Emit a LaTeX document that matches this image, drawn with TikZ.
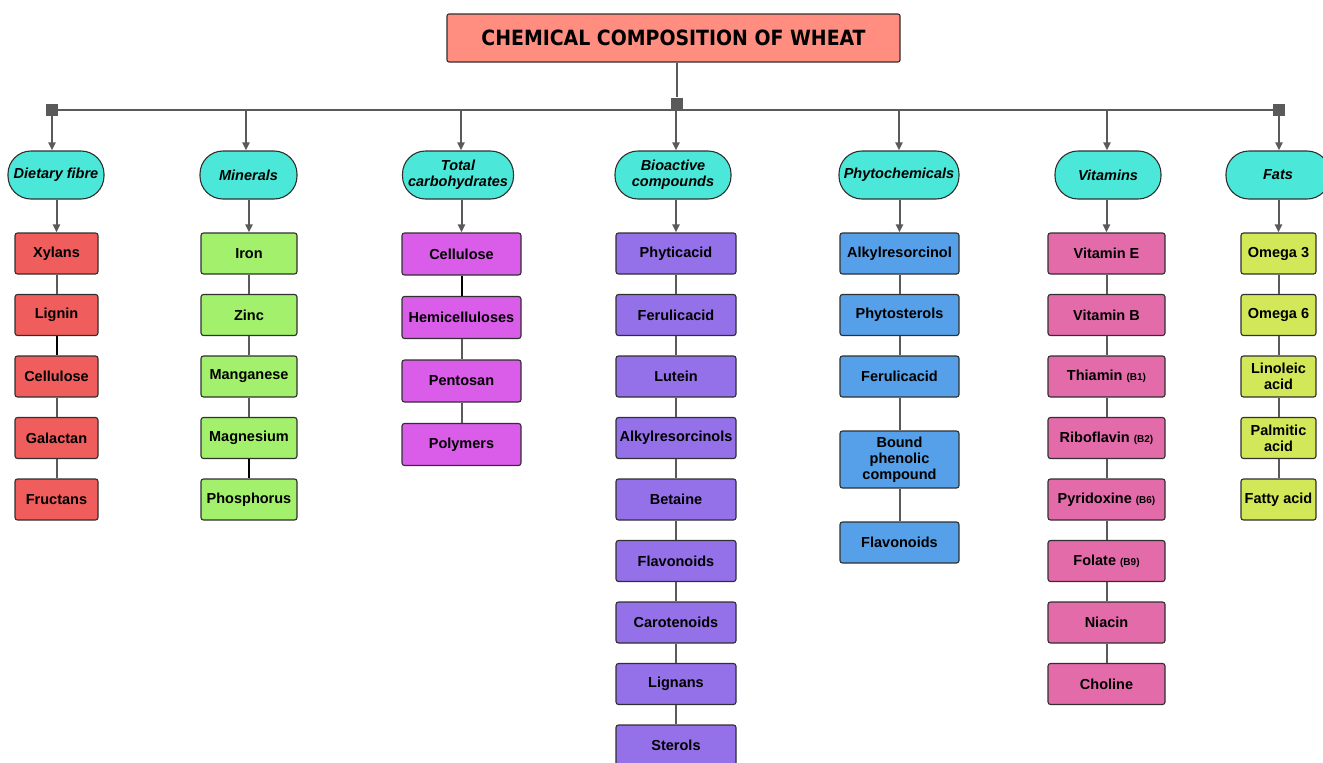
\documentclass[tikz,border=0pt]{standalone}
\usepackage{fontspec}
\setmainfont{Liberation Sans}
\newfontfamily\titlefont{DejaVu Sans Condensed}
\usetikzlibrary{arrows.meta}

\definecolor{titlefill}{HTML}{FF8E80}
\definecolor{catfill}{HTML}{4BE8D9}
\definecolor{redfill}{HTML}{EF5D5D}
\definecolor{greenfill}{HTML}{A2F06B}
\definecolor{magfill}{HTML}{DA5DE9}
\definecolor{purpfill}{HTML}{9470E9}
\definecolor{bluefill}{HTML}{55A0E8}
\definecolor{pinkfill}{HTML}{E46BAA}
\definecolor{limefill}{HTML}{D3E858}
\definecolor{linegray}{HTML}{5A5A5A}
\definecolor{edgegray}{HTML}{303030}

\newcommand{\subtag}[1]{{\fontsize{10}{12}\selectfont #1}}

\begin{document}
\begin{tikzpicture}[x=1pt,y=-1pt,
  conn/.style={draw=linegray,line width=2pt},
  darkconn/.style={draw=black,line width=2pt},
  arr/.style={conn,-{Triangle[length=8pt,width=7pt]}},
  basebox/.style={draw=edgegray,line width=1.1pt,inner sep=2pt,align=center,
    font=\fontsize{14.5}{16}\selectfont\bfseries},
  item/.style={basebox,rectangle,rounded corners=2.5pt,minimum height=41pt},
  cat/.style={basebox,fill=catfill,rounded corners=23pt,minimum height=48pt,
    font=\fontsize{14.5}{16}\selectfont\bfseries\itshape},
  titlebox/.style={draw=edgegray,line width=1.1pt,fill=titlefill,rounded corners=2pt,
    minimum width=453pt,minimum height=48pt,font=\titlefont\fontsize{21}{24}\selectfont\bfseries},
  sq/.style={fill=linegray,minimum size=12pt,inner sep=0pt}
]
\useasboundingbox (0,0) rectangle (1323,763);
\fill[white] (0,0) rectangle (1323,763);

% heading and distribution bus
\node[titlebox] (title) at (673.5,38) {CHEMICAL COMPOSITION OF WHEAT};
\node[sq] (busL) at (52,109.5) {};
\node[sq] (busR) at (1279,109.5) {};
\draw[conn] (busL.center) -- (busR.center);
\node[sq] (busM) at (677,103.5) {};
\draw[conn] (title.south -| busM) -- (busM);

% group headings
\node[cat,minimum width=96pt]  (cat1) at (56,175)    {Dietary fibre};
\node[cat,minimum width=97pt]  (cat2) at (248.5,175) {Minerals};
\node[cat,minimum width=111pt] (cat3) at (458,175)   {Total\\carbohydrates};
\node[cat,minimum width=116pt] (cat4) at (673,175)   {Bioactive\\compounds};
\node[cat,minimum width=120pt] (cat5) at (899,175)   {Phytochemicals};
\node[cat,minimum width=106pt] (cat6) at (1108,175)  {Vitamins};
\node[cat,minimum width=104pt] (cat7) at (1278,175)  {Fats};

\coordinate (b2) at (246,109.5);
\coordinate (b3) at (461,109.5);
\coordinate (b4) at (676,109.5);
\coordinate (b5) at (899,109.5);
\coordinate (b6) at (1107,109.5);
\draw[arr] (busL.center) -- (busL.center |- cat1.north);
\foreach \k in {2,...,6} \draw[arr] (b\k) -- (b\k |- cat\k.north);
\draw[arr] (busR.center) -- (busR.center |- cat7.north);

% Dietary fibre
\foreach \t [count=\i] in {Xylans,Lignin,Cellulose,Galactan,Fructans}
  \node[item,fill=redfill,minimum width=83pt] (c1-\i) at (56.5,192+61.5*\i) {\t};
% Minerals
\foreach \t [count=\i] in {Iron,Zinc,Manganese,Magnesium,Phosphorus}
  \node[item,fill=greenfill,minimum width=96pt] (c2-\i) at (249,192+61.5*\i) {\t};
% Total carbohydrates
\foreach \t [count=\i] in {Cellulose,Hemicelluloses,Pentosan,Polymers}
  \node[item,fill=magfill,minimum width=119pt,minimum height=42pt] (c3-\i) at (461.5,190.5+63.5*\i) {\t};
% Bioactive compounds
\foreach \t [count=\i] in {Phyticacid,Ferulicacid,Lutein,Alkylresorcinols,Betaine,Flavonoids,Carotenoids,Lignans,Sterols}
  \node[item,fill=purpfill,minimum width=120pt] (c4-\i) at (676,192+61.5*\i) {\t};
% Phytochemicals
\node[item,fill=bluefill,minimum width=119pt] (c5-1) at (899.5,253.5) {Alkylresorcinol};
\node[item,fill=bluefill,minimum width=119pt] (c5-2) at (899.5,315)   {Phytosterols};
\node[item,fill=bluefill,minimum width=119pt] (c5-3) at (899.5,376.5) {Ferulicacid};
\node[item,fill=bluefill,minimum width=119pt,minimum height=57pt] (c5-4) at (899.5,459.5) {Bound\\phenolic\\compound};
\node[item,fill=bluefill,minimum width=119pt] (c5-5) at (899.5,542.5) {Flavonoids};
% Vitamins
\foreach \t [count=\i] in {{Vitamin E},{Vitamin B},{Thiamin \subtag{(B1)}},{Riboflavin \subtag{(B2)}},{Pyridoxine \subtag{(B6)}},{Folate \subtag{(B9)}},Niacin,Choline}
  \node[item,fill=pinkfill,minimum width=117pt] (c6-\i) at (1106.5,192+61.5*\i) {\t};
% Fats
\foreach \t [count=\i] in {{Omega 3},{Omega 6},{Linoleic\\acid},{Palmitic\\acid},{Fatty acid}}
  \node[item,fill=limefill,minimum width=75pt,inner sep=1pt] (c7-\i) at (1278.5,192+61.5*\i) {\t};

% first item of each group
\foreach \k in {1,...,7} \draw[arr] (cat\k.south -| c\k-1) -- (c\k-1.north);

% links inside each group
\foreach \k/\n in {1/5,2/5,3/4,4/9,5/5,6/8,7/5}
  \foreach \i in {2,...,\n} {
    \pgfmathtruncatemacro\j{\i-1}
    \draw[conn] (c\k-\j) -- (c\k-\i);
  }
\draw[darkconn] (c1-2) -- (c1-3);
\draw[darkconn] (c3-1) -- (c3-2);
\draw[darkconn] (c2-4) -- (c2-5);
\end{tikzpicture}
\end{document}
